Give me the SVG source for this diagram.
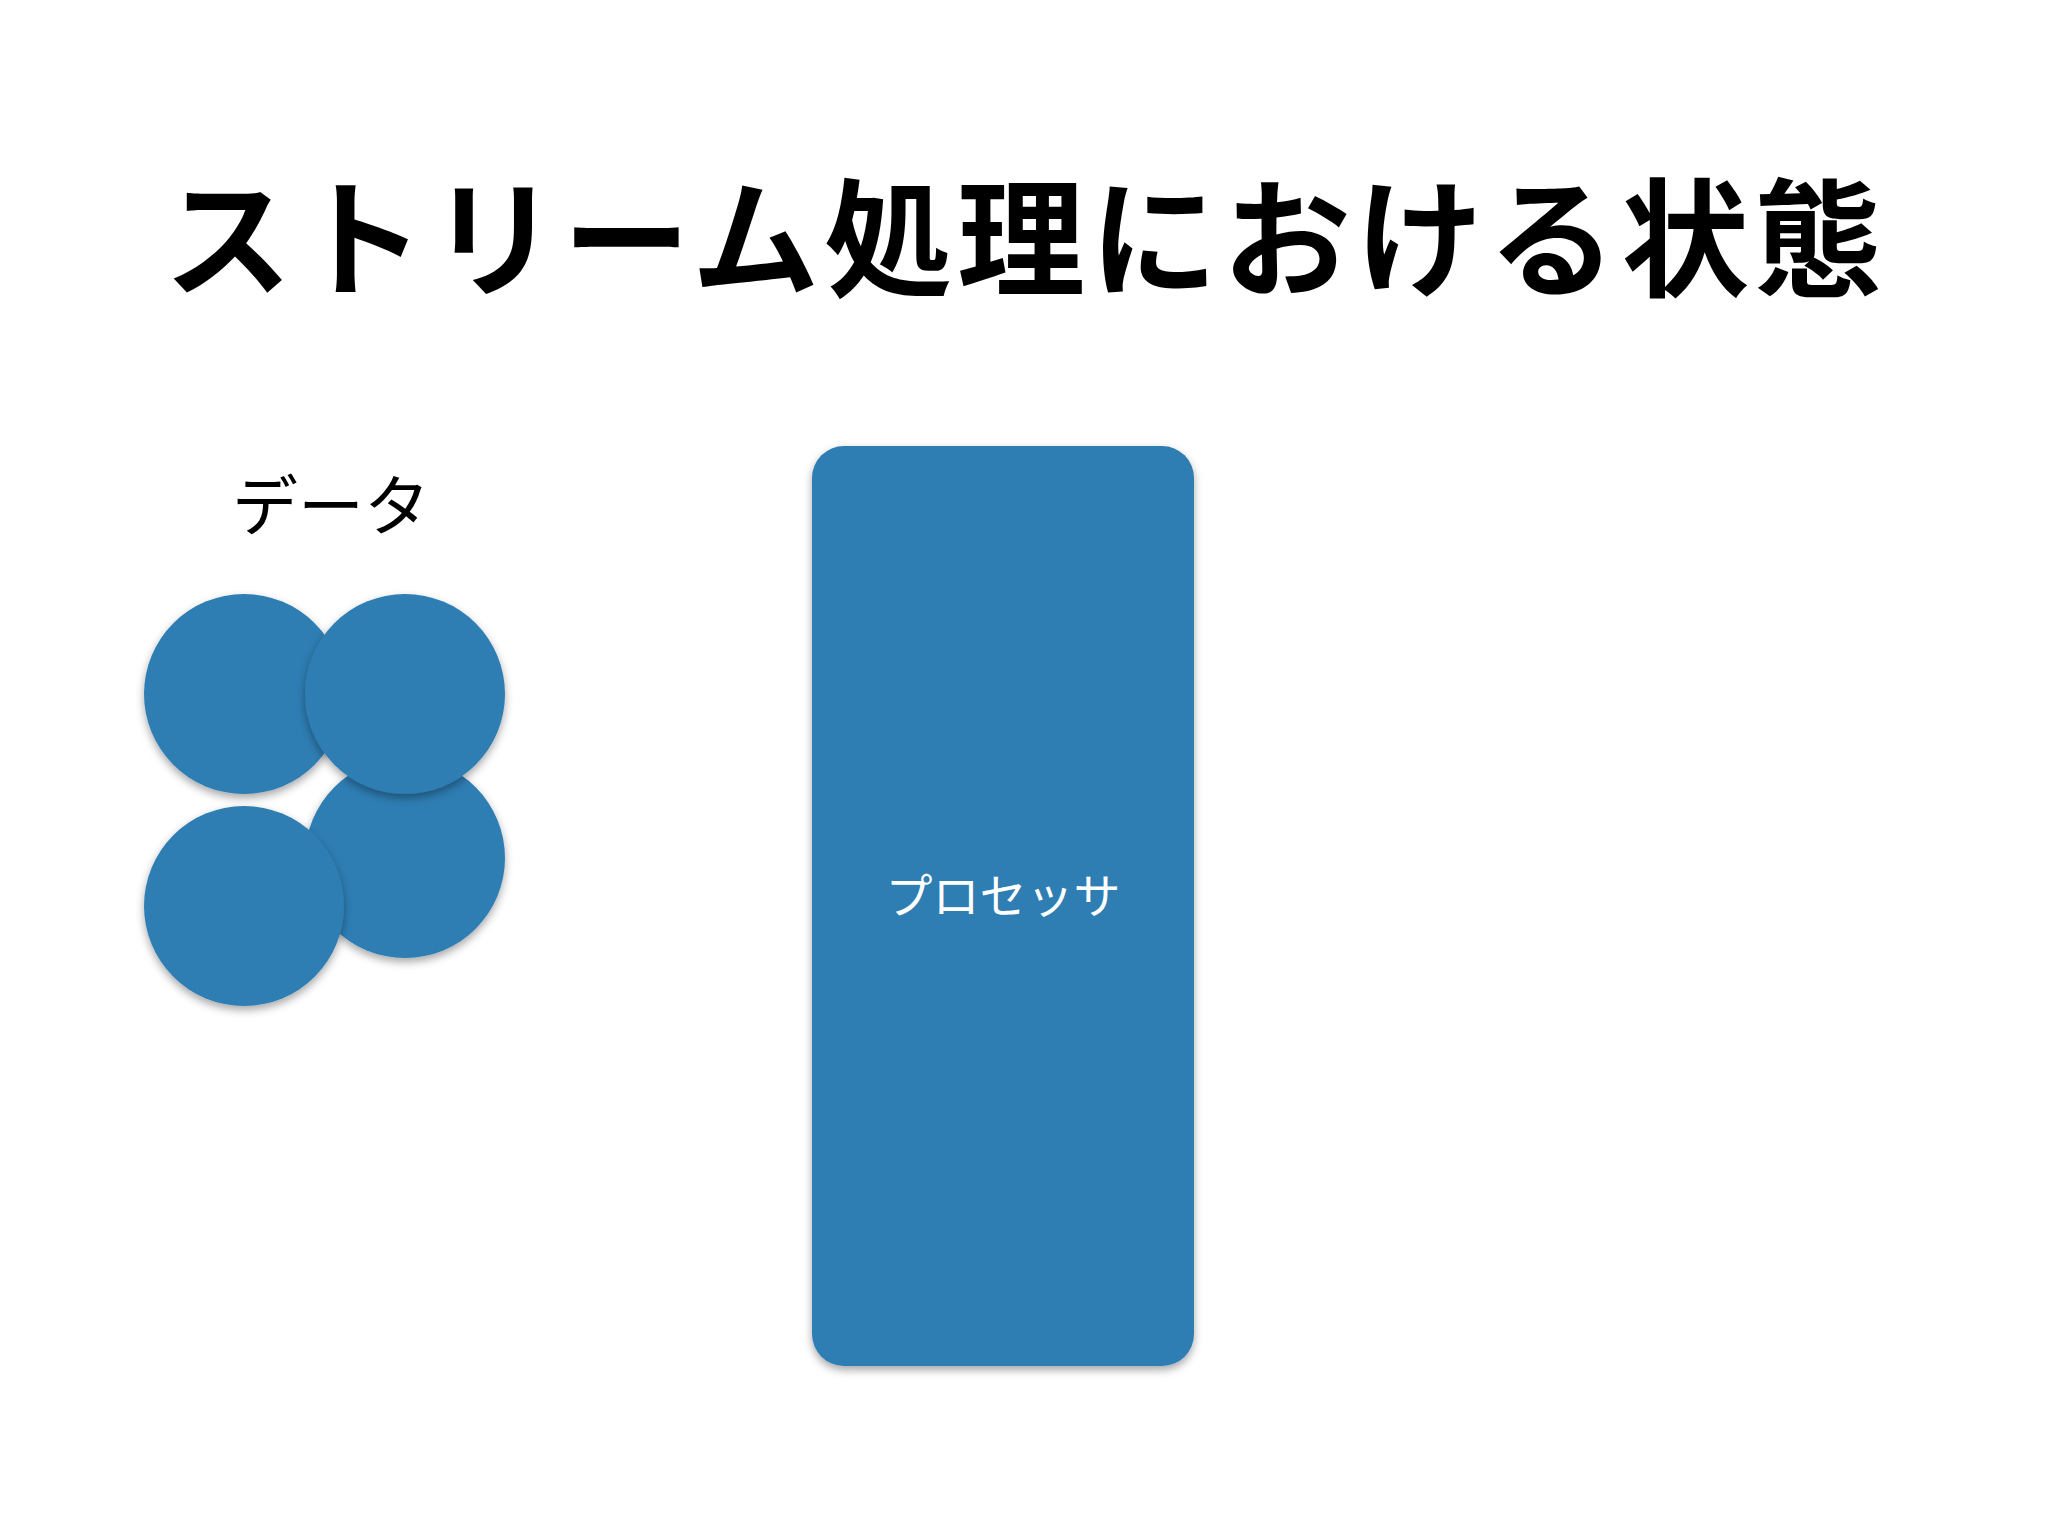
<svg xmlns="http://www.w3.org/2000/svg" width="2048" height="1536" viewBox="0 0 2048 1536">
<defs>
<filter id="sh" x="-20%" y="-20%" width="140%" height="140%">
<feDropShadow dx="0" dy="4" stdDeviation="4" flood-color="#000" flood-opacity="0.35"/>
</filter>
<style>
.title{font-family:"Noto Sans CJK JP","Noto Sans",sans-serif;font-weight:bold;font-size:128px;fill:#000}
.lbl{font-family:"Noto Sans CJK JP","Noto Sans",sans-serif;font-weight:400;font-size:66px;fill:#000}
.in{font-family:"Noto Sans CJK JP","Noto Sans",sans-serif;font-weight:400;font-size:47px;fill:#fff}
.blue{fill:#2f7db3;filter:url(#sh)}
</style>
</defs>
<rect width="2048" height="1536" fill="#fff"/>
<text class="title" x="164" y="287" textLength="1718" lengthAdjust="spacing">ストリーム処理における状態</text>
<g id="data-label"><text class="lbl" x="331" y="530" text-anchor="middle">データ</text></g>
<g id="data1"><circle class="blue" cx="244" cy="694" r="100"/></g>
<g id="data4"><circle class="blue" cx="405" cy="858" r="100"/></g>
<g id="data2"><circle class="blue" cx="405" cy="694" r="100"/></g>
<g id="data3"><circle class="blue" cx="244" cy="906" r="100"/></g>
<g id="processor">
<rect class="blue" x="812" y="446" width="382" height="920" rx="32" ry="32"/>
<text class="in" x="1003" y="913" text-anchor="middle">プロセッサ</text>
</g>
<g id="connectors"/>
</svg>
